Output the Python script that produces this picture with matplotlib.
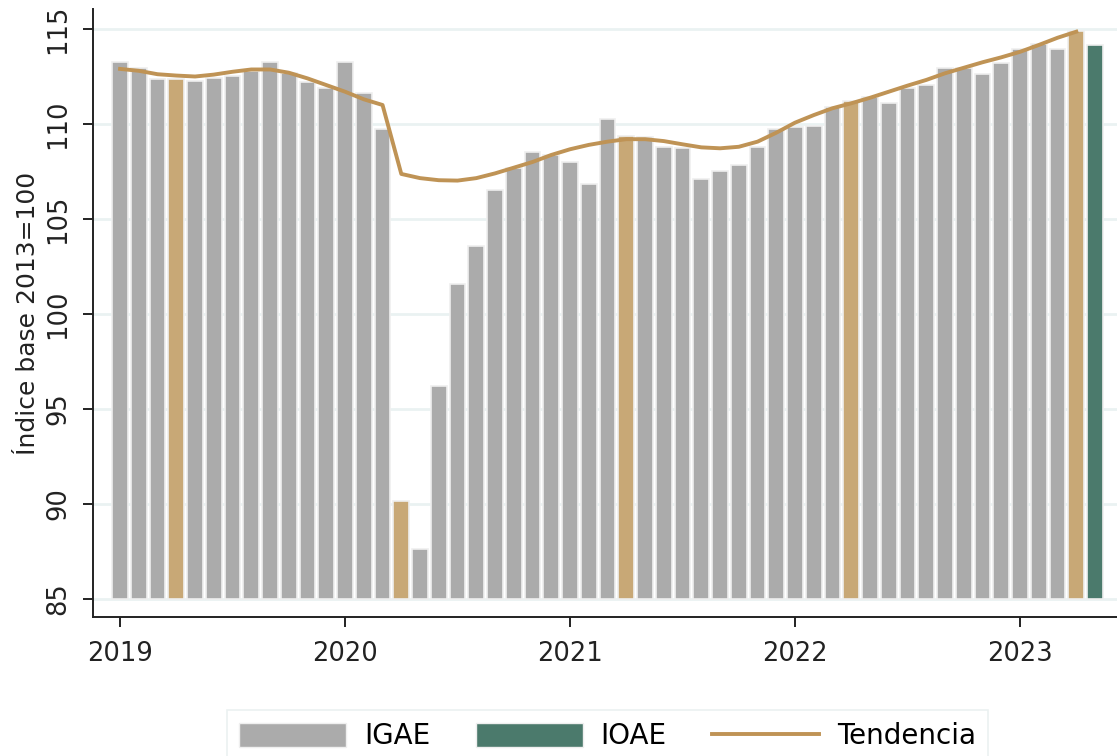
import numpy as np
import matplotlib
matplotlib.use("Agg")
import matplotlib.pyplot as plt
from matplotlib.patches import Patch
from matplotlib.lines import Line2D

plt.rcParams['font.family'] = ['DejaVu Sans']

# IGAE mensual, ene-2019 a abr-2023
igae = [113.25, 112.97, 112.37, 112.37, 112.28, 112.42, 112.53, 112.80, 113.26, 112.68, 112.19, 111.88,
        113.28, 111.65, 109.74, 90.15, 87.60, 96.20, 101.60, 103.60, 106.50, 107.70, 108.50, 108.37,
        108.00, 106.84, 110.26, 109.38, 109.30, 108.80, 108.75, 107.13, 107.53, 107.84, 108.80, 109.75,
        109.86, 109.90, 110.90, 111.23, 111.40, 111.09, 111.88, 112.05, 112.96, 112.93, 112.63, 113.23,
        113.95, 114.20, 113.95, 114.90]
# IOAE (may-2023)
ioae = [114.14]
# tendencia
tendencia = [112.90, 112.80, 112.62, 112.55, 112.50, 112.60, 112.75, 112.87, 112.87, 112.70, 112.40, 112.05,
             111.70, 111.30, 111.00, 107.37, 107.15, 107.04, 107.02, 107.15, 107.40, 107.70, 108.00, 108.37,
             108.67, 108.90, 109.07, 109.20, 109.20, 109.10, 108.93, 108.77, 108.72, 108.80, 109.07, 109.54,
             110.07, 110.47, 110.83, 111.09, 111.38, 111.70, 112.02, 112.32, 112.67, 112.96, 113.25, 113.51,
             113.80, 114.16, 114.54, 114.86]
years = ['2019', '2020', '2021', '2022', '2023']
mes_resaltado = 3  # abril

gris = '#ABABAB'
dorado = '#C8A876'
verde = '#4B7A6C'
linea = '#BF9355'

x = np.arange(len(igae))
x_ioae = np.arange(len(igae), len(igae) + len(ioae))
colores = [dorado if i % 12 == mes_resaltado else gris for i in x]

fig = plt.figure(figsize=(11.17, 7.56), dpi=100)
ax = fig.add_axes([0.0833, 0.184, 0.9167, 0.804])

base = 85
ax.bar(x, np.array(igae) - base, bottom=base, width=0.84, color=colores,
       edgecolor='#EFEFEF', linewidth=1.2, zorder=2)
ax.bar(x_ioae, np.array(ioae) - base, bottom=base, width=0.84, color=verde,
       edgecolor='#EFEFEF', linewidth=1.2, zorder=2)
ax.plot(np.arange(len(tendencia)), tendencia, color=linea, lw=2.8, zorder=3)

ax.set_xlim(-1.44, 53.17)
ax.set_ylim(84.05, 116.05)
ax.set_yticks(np.arange(85, 116, 5))
ax.set_xticks(np.arange(len(years)) * 12)
ax.set_xticklabels(years)
ax.yaxis.grid(True, color='#EAF2F2', lw=2)
ax.set_axisbelow(True)

for s in ['top', 'right']:
    ax.spines[s].set_visible(False)
for s in ['left', 'bottom']:
    ax.spines[s].set_linewidth(1.4)
    ax.spines[s].set_color('#222222')

ax.tick_params(axis='both', labelsize=18.5, colors='#222222', length=7.5, width=1.4)
ax.tick_params(axis='y', labelrotation=90, pad=8)
ax.tick_params(axis='x', pad=10)
for lab in ax.get_yticklabels():
    lab.set_va('center')

ax.set_ylabel('Índice base 2013=100', fontsize=18, color='#222222', labelpad=4)

handles = [Patch(facecolor=gris, edgecolor='#EFEFEF', label='IGAE'),
           Patch(facecolor=verde, edgecolor='#EFEFEF', label='IOAE'),
           Line2D([0], [0], color=linea, lw=2.8, label='Tendencia')]
leg = fig.legend(handles=handles, loc='upper center', bbox_to_anchor=(0.544, 1 - 710 / 756),
                 ncol=3, fontsize=20, frameon=True, fancybox=False, handlelength=3.85,
                 handleheight=1.0, handletextpad=0.65, columnspacing=1.62, borderpad=0.45,
                 borderaxespad=0)
leg.get_frame().set_edgecolor('#E6EEEE')
leg.get_frame().set_linewidth(1.2)

fig.savefig('out.png', dpi=100)
